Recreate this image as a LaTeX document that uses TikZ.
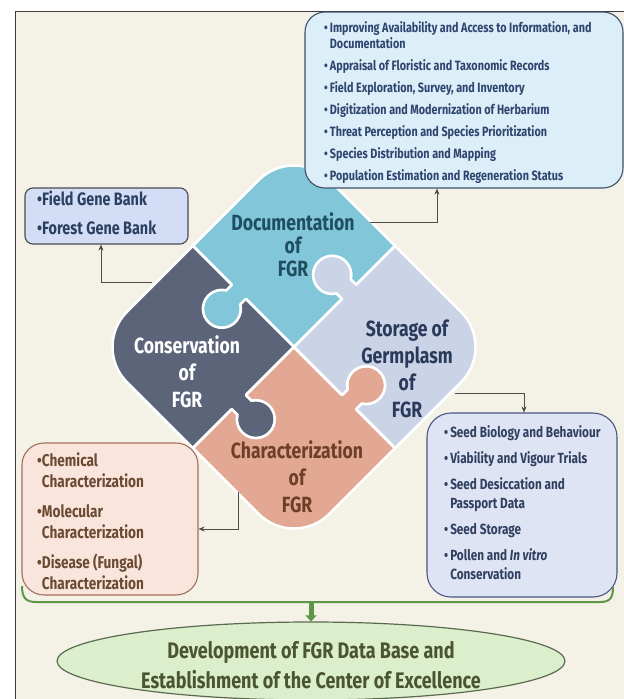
\documentclass[tikz,border=0pt]{standalone}
\usepackage{fontspec}
\setmainfont{Fira Sans}[FakeStretch=0.8]
\usetikzlibrary{shapes.geometric,arrows.meta}
\definecolor{bgc}{HTML}{F4F2E6}
\definecolor{framec}{HTML}{3A3A3A}
\definecolor{trfill}{HTML}{DCEEF7}
\definecolor{trdraw}{HTML}{3F5068}
\definecolor{trtextc}{HTML}{2E4470}
\definecolor{ltfill}{HTML}{D3DDF5}
\definecolor{ltdraw}{HTML}{4A4A55}
\definecolor{lttextc}{HTML}{2A4060}
\definecolor{blfill}{HTML}{FAE5DC}
\definecolor{bldraw}{HTML}{A0705A}
\definecolor{bltextc}{HTML}{6A4A32}
\definecolor{brfill}{HTML}{DFE4F4}
\definecolor{brdraw}{HTML}{4B5585}
\definecolor{brtextc}{HTML}{2F3F60}
\definecolor{greenc}{HTML}{5E9648}
\definecolor{ellfill}{HTML}{DCEFCC}
\definecolor{elldraw}{HTML}{5A6A50}
\definecolor{elltextc}{HTML}{4B5530}
\definecolor{pdoc}{HTML}{82C6DA}
\definecolor{pcons}{HTML}{5B6479}
\definecolor{pchar}{HTML}{E3A893}
\definecolor{pstor}{HTML}{CBD3E7}
\definecolor{tdoc}{HTML}{1F4E60}
\definecolor{tstor}{HTML}{2A3A5A}
\definecolor{tchar}{HTML}{6E3E28}
\begin{document}
\begin{tikzpicture}[x=1pt,y=-1pt,
  conn/.style={draw=black!70, line width=0.7pt, -{Stealth[length=6pt,width=5pt]}},
  listbox/.style={rounded corners=#1, line width=1.1pt},
  listtext/.style={anchor=north west, inner sep=0pt, align=left},
  plab/.style={align=center, inner sep=0pt}]
\useasboundingbox (0,0) rectangle (624,699);
\fill[white] (0,0) rectangle (624,699);
\fill[bgc] (16,12) rectangle (624,699);
\draw[framec, line width=1.6pt] (15.5,699) -- (15.5,11.5) -- (624,11.5);

% puzzle
\begin{scope}[x={(0.7071pt,0.7071pt)}, y={(-0.7071pt,0.7071pt)}, shift={(294pt,-347pt)}]
\foreach \ang/\col in {0/pdoc,90/pcons,180/pchar,270/pstor}{
  \begin{scope}[rotate=\ang]
  \path[fill=\col, draw=white, line width=2.5pt, line join=round]
    (0,0) -- (68,0) -- (68,7.84) arc[start angle=238.25, end angle=-58.25, radius=19]
    -- (88,0) -- (143,0) -- (143,93) arc[start angle=0, end angle=90, radius=50]
    -- (0,143) -- (0,88) -- (-7.84,88) arc[start angle=31.75, end angle=328.25, radius=19]
    -- (-7.84,68) -- (0,68) -- cycle;
  \end{scope}
}
\end{scope}

\node[plab, text=tdoc, font=\bfseries\fontsize{22}{23}\selectfont] (doclab) at (293,245) {Documentation\\of\\FGR};
\node[plab, text=tstor, font=\bfseries\fontsize{22}{27}\selectfont] (storlab) at (407,369) {Storage of\\Germplasm\\of\\FGR};
\node[plab, text=white, font=\bfseries\fontsize{22}{27}\selectfont] (conslab) at (187,372) {Conservation\\of\\FGR};
\node[plab, text=tchar, font=\bfseries\fontsize{22}{27}\selectfont] (charlab) at (297,477) {Characterization\\of\\FGR};

% boxes
\node[listbox=20pt, fill=trfill, draw=trdraw, minimum width=318pt, minimum height=176pt] (tr) at (464,100) {};
\node[listtext, text=trtextc, font=\bfseries\fontsize{13.5}{16}\selectfont] (trtext) at (324,21) {%
\begin{tabular}{@{}l@{\hspace{2pt}}l@{}}
•&Improving Availability and Access to Information, and\\
&Documentation\\[6pt]
•&Appraisal of Floristic and Taxonomic Records\\[6pt]
•&Field Exploration, Survey, and Inventory\\[6pt]
•&Digitization and Modernization of Herbarium\\[6pt]
•&Threat Perception and Species Prioritization\\[6pt]
•&Species Distribution and Mapping\\[6pt]
•&Population Estimation and Regeneration Status
\end{tabular}};

\node[listbox=8pt, fill=ltfill, draw=ltdraw, minimum width=163pt, minimum height=56pt] (lt) at (106.5,216) {};
\node[listtext, text=lttextc, font=\bfseries\fontsize{18}{21}\selectfont] (lttext) at (37,191) {%
\begin{tabular}{@{}l@{}l@{}}
•&Field Gene Bank\\[8pt]
•&Forest Gene Bank
\end{tabular}};

\node[listbox=22pt, fill=blfill, draw=bldraw, minimum width=176pt, minimum height=152pt] (bl) at (110,519) {};
\node[listtext, text=bltextc, font=\bfseries\fontsize{17}{20.5}\selectfont] (bltext) at (37,452) {%
\begin{tabular}{@{}l@{}l@{}}
•&Chemical\\
&Characterization\\[10pt]
•&Molecular\\
&Characterization\\[10pt]
•&Disease (Fungal)\\
&Characterization
\end{tabular}};

\node[listbox=24pt, fill=brfill, draw=brdraw, minimum width=190pt, minimum height=184pt] (br) at (522,505) {};
\node[listtext, text=brtextc, font=\bfseries\fontsize{14.7}{19}\selectfont] (brtext) at (444,423.5) {%
\begin{tabular}{@{}l@{\hspace{2pt}}l@{}}
•&Seed Biology and Behaviour\\[7pt]
•&Viability and Vigour Trials\\[7pt]
•&Seed Desiccation and\\
&Passport Data\\[7pt]
•&Seed Storage\\[7pt]
•&Pollen and \textit{In vitro}\\
&Conservation
\end{tabular}};

% connectors
\coordinate (docout) at (370,222);
\coordinate (consout) at (152,282);
\coordinate (charout) at (238,492);
\coordinate (storout) at (455,393);
\draw[conn] (docout) -| ([xshift=-27pt]tr.south);
\draw[conn] (consout) -| ([xshift=-5.5pt]lt.south);
\draw[conn] (charout) |- ([yshift=-10pt]bl.east);
\draw[conn] (storout) -| ([xshift=2pt]br.north);

% brace and result
\draw[greenc, line width=2pt] (22,586) .. controls (22,598) and (26,602) .. (36,602) -- (600,602) .. controls (610,602) and (613,598) .. (613,587);
\coordinate (bracemid) at (311,602);
\node[ellipse, fill=ellfill, draw=elldraw, line width=1.2pt, minimum width=508pt, minimum height=78pt, inner sep=0pt] (ell) at (311,661) {};
\node[align=center, inner sep=0pt, text=elltextc, font=\bfseries\fontsize{22.5}{30}\selectfont] (elltext) at (311,665) {Development of FGR Data Base and\\Establishment of the Center of Excellence};
\draw[greenc, line width=5pt, -{Triangle[length=6pt,width=11pt]}] (bracemid) -- (ell.north);
\end{tikzpicture}
\end{document}
